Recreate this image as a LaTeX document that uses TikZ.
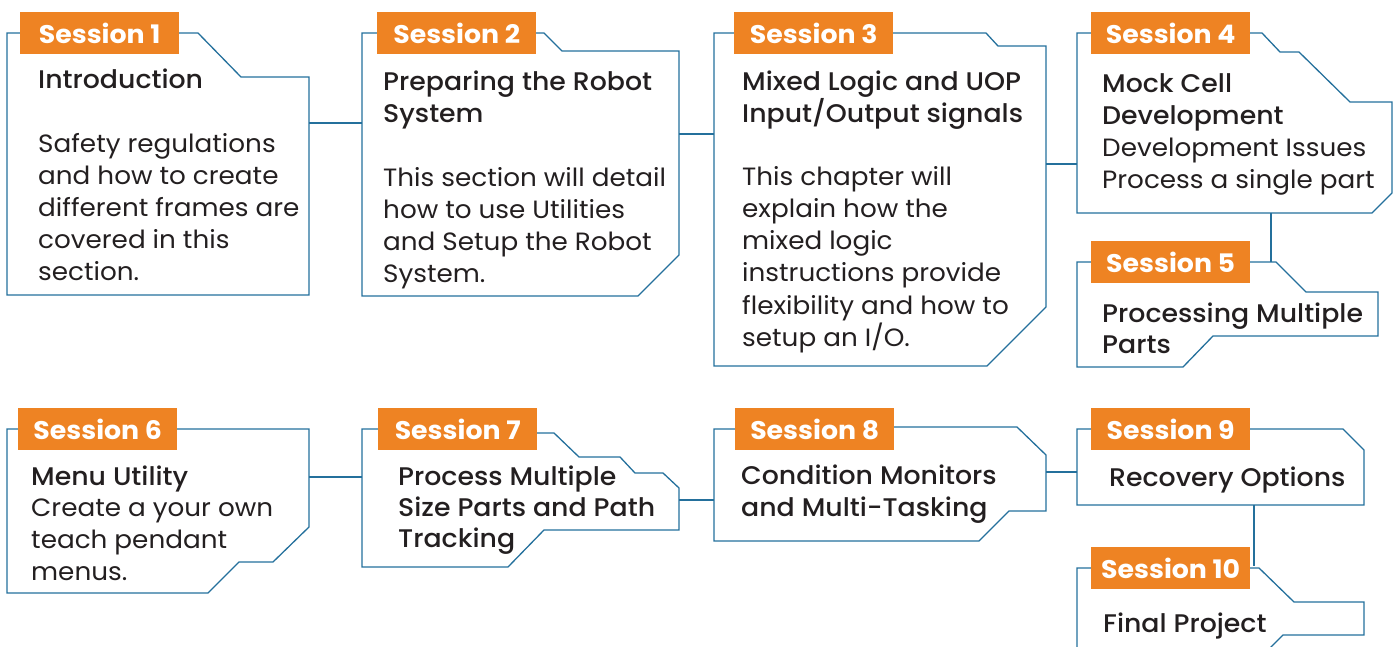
\documentclass[tikz,border=0pt]{standalone}
\usepackage{fontspec}
\setmainfont{Poppins}[FakeStretch=1.05]
\newfontfamily\ttlfont{Poppins Medium}[FakeStretch=1.05]
\definecolor{orng}{HTML}{EE8323}
\definecolor{blu}{HTML}{24709C}
\definecolor{txt}{HTML}{231F20}
\tikzset{
 frame/.style={draw=blu, line width=1.3pt, line join=miter},
 link/.style={draw=blu, line width=1.3pt},
 tag/.style={fill=orng, text=white, font=\bfseries\fontsize{25.5}{25.5}\selectfont, minimum width=159pt, minimum height=42pt, inner sep=0pt, anchor=north west},
 ttl/.style={anchor=base west, inner sep=0pt, text=txt, font=\ttlfont\fontsize{25.5}{32}\selectfont},
 bdy/.style={anchor=base west, inner sep=0pt, text=txt, font=\fontsize{25}{32}\selectfont},
}
\begin{document}
\begin{tikzpicture}[x=1pt,y=-1pt]
\useasboundingbox (0,0) rectangle (1393,647);
\clip (0,0) rectangle (1393,647);
% frames
\draw[frame] (7,33) -- (198,33) -- (241,77) -- (309,77) -- (309,295) -- (7,295) -- cycle;
\draw[frame] (362,33) -- (544,33) -- (562,51) -- (679,51) -- (679,255) -- (638,296) -- (362,296) -- cycle;
\draw[frame] (714,33) -- (986,33) -- (998,46) -- (1046,46) -- (1046,307) -- (987,366) -- (714,366) -- cycle;
\draw[frame] (1077,33) -- (1262,33) -- (1280,52) -- (1299,52) -- (1350,102) -- (1392,102) -- (1392,193) -- (1372,213) -- (1077,213) -- cycle;
\draw[frame] (1077,262) -- (1276,262) -- (1306,292) -- (1378,292) -- (1378,336) -- (1213,336) -- (1183,367) -- (1077,367) -- cycle;
\draw[frame] (7,429) -- (309,429) -- (309,527) -- (273,562) -- (239,562) -- (208,593) -- (7,593) -- cycle;
\draw[frame] (362,429) -- (536,429) -- (536,433) -- (554,433) -- (579,457) -- (620,457) -- (635,473) -- (663,473) -- (679,488) -- (679,530) -- (544,530) -- (508,567) -- (362,567) -- cycle;
\draw[frame] (714,429) -- (890,429) -- (890,427) -- (1017,427) -- (1046,455) -- (1046,511) -- (1009,511) -- (979,541) -- (714,541) -- cycle;
\draw[frame] (1077,429) -- (1343,429) -- (1364,450) -- (1364,505) -- (1077,505) -- cycle;
\draw[frame] (1077,700) -- (1077,568) -- (1259,568) -- (1294,602) -- (1364,602) -- (1364,635) -- (1283,635) -- (1220,698);
% connector end points
\coordinate (b1e) at (309,123); \coordinate (b2w) at (362,123);
\coordinate (b2e) at (679,134); \coordinate (b3w) at (714,134);
\coordinate (b3e) at (1046,164); \coordinate (b4w) at (1077,164);
\coordinate (b4s) at (1271,213); \coordinate (b5n) at (1271,262);
\coordinate (b6e) at (309,477); \coordinate (b7w) at (362,477);
\coordinate (b7e) at (679,500); \coordinate (b8w) at (714,500);
\coordinate (b8e) at (1046,472); \coordinate (b9w) at (1077,472);
\coordinate (b9s) at (1254,505); \coordinate (b10n) at (1254,566);
\draw[link] (b1e) -- (b2w);
\draw[link] (b2e) -- (b3w);
\draw[link] (b3e) -- (b4w);
\draw[link] (b4s) -- (b5n);
\draw[link] (b6e) -- (b7w);
\draw[link] (b7e) -- (b8w);
\draw[link] (b8e) -- (b9w);
\draw[link] (b9s) -- (b10n);
% tags
\node[tag] (s1) at (20,12) {Session 1};
\node[tag] (s2) at (377,12) {Session 2};
\node[tag] (s3) at (734,12) {Session 3};
\node[tag] (s4) at (1091,12) {Session 4};
\node[tag] (s5) at (1091,241) {Session 5};
\node[tag] (s6) at (18,408) {Session 6};
\node[tag] (s7) at (378,408) {Session 7};
\node[tag] (s8) at (735,408) {Session 8};
\node[tag] (s9) at (1091,408) {Session 9};
\node[tag] (s10) at (1091,547) {Session 10};
% box 1
\node[ttl] (t1) at (38,89) {Introduction};
\node[bdy] (t1a) at (38,153) {Safety regulations};
\node[bdy] (t1b) at (38,185) {and how to create};
\node[bdy] (t1c) at (38,217) {different frames are};
\node[bdy] (t1d) at (38,249) {covered in this};
\node[bdy] (t1e) at (38,281) {section.};
% box 2
\node[ttl] (t2) at (383,91) {Preparing the Robot};
\node[ttl] (t2b) at (383,123) {System};
\node[bdy] (t2c) at (383,187) {This section will detail};
\node[bdy] (t2d) at (383,219) {how to use Utilities};
\node[bdy] (t2e) at (383,251) {and Setup the Robot};
\node[bdy] (t2f) at (383,283) {System.};
% box 3
\node[ttl] (t3) at (742,91) {Mixed Logic and UOP};
\node[ttl] (t3b) at (742,123) {Input/Output signals};
\node[bdy] (t3c) at (742,186) {This chapter will};
\node[bdy] (t3d) at (742,218) {explain how the};
\node[bdy] (t3e) at (742,250) {mixed logic};
\node[bdy] (t3f) at (742,282) {instructions provide};
\node[bdy] (t3g) at (742,314) {flexibility and how to};
\node[bdy] (t3h) at (742,346) {setup an I/O.};
% box 4
\node[ttl] (t4) at (1102,93) {Mock Cell};
\node[ttl] (t4b) at (1102,125) {Development};
\node[bdy] (t4c) at (1102,157) {Development Issues};
\node[bdy] (t4d) at (1102,189) {Process a single part};
% box 5
\node[ttl] (t5) at (1102,322) {Processing Multiple};
\node[ttl] (t5b) at (1102,353) {Parts};
% box 6
\node[ttl] (t6) at (31,485) {Menu Utility};
\node[bdy] (t6b) at (31,516) {Create a your own};
\node[bdy] (t6c) at (31,548) {teach pendant};
\node[bdy] (t6d) at (31,580) {menus.};
% box 7
\node[ttl] (t7) at (398,485) {Process Multiple};
\node[ttl] (t7b) at (398,516) {Size Parts and Path};
\node[ttl] (t7c) at (398,547) {Tracking};
% box 8
\node[ttl] (t8) at (741,484) {Condition Monitors};
\node[ttl] (t8b) at (741,516) {and Multi-Tasking};
% box 9
\node[ttl] (t9) at (1109,486) {Recovery Options};
% box 10
\node[ttl] (t10) at (1103,632) {Final Project};
\end{tikzpicture}
\end{document}
